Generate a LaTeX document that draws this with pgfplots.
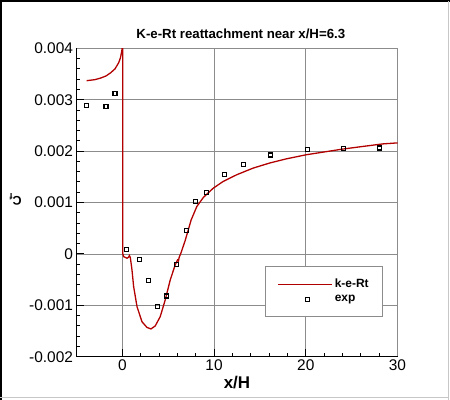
\documentclass[border=0pt]{standalone}
\usepackage{pgfplots}
\pgfplotsset{compat=1.18}
\usepackage{fontspec}
\setmainfont{Liberation Sans}
\definecolor{cfred}{RGB}{178,0,0}
\definecolor{gridgray}{RGB}{140,140,140}
\begin{document}
\begin{tikzpicture}
\path[use as bounding box] (0,0) rectangle (450bp,400bp);
\begin{axis}[
  name=ax,
  at={(76.5bp,43.3bp)}, anchor=south west,
  scale only axis,
  width=321bp, height=308.4bp,
  xmin=-5, xmax=30,
  ymin=-0.002, ymax=0.004,
  xtick={0,10,20,30},
  xticklabels={0,10,20,30},
  ytick={-0.002,-0.001,0,0.001,0.002,0.003,0.004},
  yticklabels={-0.002,-0.001,0,0.001,0.002,0.003,0.004},
  scaled y ticks=false,
  minor x tick num=4,
  minor y tick num=4,
  tick align=inside,
  xtick pos=left, ytick pos=left,
  major tick length=8bp,
  minor tick length=4bp,
  tick style={black, line width=0.9bp},
  grid=major,
  major grid style={gridgray, line width=0.8bp},
  axis line style={gridgray, line width=0.8bp},
  ticklabel style={font=\fontsize{15.5}{16}\selectfont},
  xticklabel style={yshift=1bp},
  title={K-e-Rt reattachment near x/H=6.3},
  title style={font=\bfseries\fontsize{13.3}{14}\selectfont, at={(axis description cs:0.512,1.026)}, anchor=center, yshift=0pt},
  xlabel={x/H},
  xlabel style={font=\bfseries\fontsize{17}{18}\selectfont, at={(axis description cs:0.5,-0.084)}, anchor=center},
  ylabel={C\textsubscript{f}},
  ylabel style={font=\bfseries\fontsize{12.5}{13}\selectfont, at={(axis description cs:-0.19,0.51)}, anchor=center, rotate=90},
  legend style={at={(0.955,0.295)}, anchor=north east, draw=gridgray, line width=0.8bp, fill=white,
    font=\bfseries\fontsize{12}{13}\selectfont, inner xsep=12bp, inner ysep=11bp,
    row sep=2bp, cells={anchor=west}},
  legend cell align=left,
]
\addplot[cfred, line width=1.3bp, no marks,
  legend image code/.code={\draw[cfred, line width=1.3bp] (0bp,0bp) -- (54bp,0bp);}]
coordinates {
(-3.9,0.00337) (-3.0,0.00339) (-2.39,0.00342) (-1.8,0.00346) (-1.3,0.00352)
(-0.8,0.00360) (-0.4,0.00372) (-0.2,0.00382) (-0.03,0.00398) (0.01,0.00420)
(0.05,0.00420) (0.05,0.00000) (0.14,-0.000053) (0.51,-0.000084) (0.68,-0.000064)
(0.76,-0.000033) (0.87,-0.000072) (1.05,-0.000312) (1.23,-0.000637) (1.6,-0.001027)
(2.14,-0.00132) (2.68,-0.00143) (3.12,-0.00146) (3.59,-0.00140) (4.13,-0.00122)
(4.67,-0.000897) (5.22,-0.000507) (5.76,-0.000214) (6.02,-0.000117) (6.12,-0.000135)
(6.2,-0.000064) (6.38,0.000014) (6.85,0.00026) (7.5,0.00066) (8.12,0.000922)
(8.84,0.00110) (9.92,0.00128) (11.0,0.00141) (12.47,0.00154) (14.27,0.00167)
(16.1,0.00177) (17.9,0.00185) (20.08,0.00193) (22.25,0.00199) (24.05,0.00204)
(26.2,0.00209) (28.4,0.00214) (30,0.00216)
};
\addlegendentry{k-e-Rt}
\addplot[only marks, black, mark=square, mark size=2bp, mark options={line width=1.1bp},
  legend image code/.code={\path[draw=none, fill=none] (0bp,-3bp) rectangle (54bp,3bp); \node[draw=black, fill=none, line width=1.1bp, rectangle, minimum size=4bp, inner sep=0pt] at (27bp,0bp) {};}]
coordinates {
(-3.9,0.002885) (-1.78,0.002865) (-0.8,0.00312) (0.47,0.000092) (1.83,-0.000111)
(2.84,-0.000513) (3.82,-0.00102) (4.8,-0.000819) (5.89,-0.000214) (7.02,0.000458)
(7.98,0.001023) (9.16,0.001195) (11.17,0.001546) (13.16,0.001735) (16.18,0.001924)
(20.14,0.002033) (24.07,0.002047) (28.03,0.00206)
};
\addlegendentry{exp}
\end{axis}
\draw[black, line width=1.2bp] (ax.north west) -- (ax.south west) -- (ax.south east);
\draw[black, line width=2bp] (1bp,0bp) -- (1bp,400bp);
\draw[black, line width=2bp] (0bp,399bp) -- (450bp,399bp);
\draw[black!22, line width=1bp] (448.3bp,0bp) -- (448.3bp,399bp);
\draw[black!22, line width=1bp] (0bp,2.3bp) -- (448.3bp,2.3bp);
\end{tikzpicture}
\end{document}
